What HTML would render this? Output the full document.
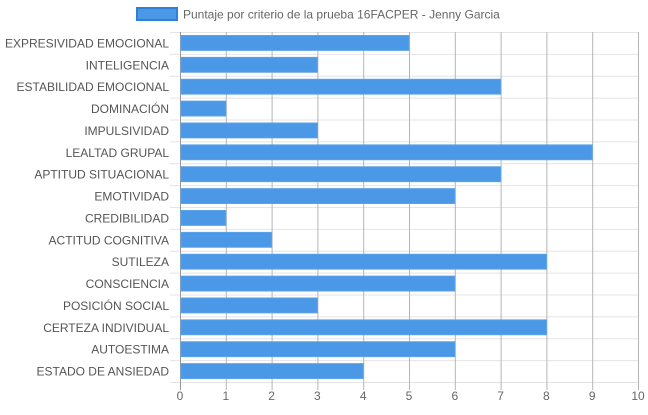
<!DOCTYPE html>
<html><head><meta charset="utf-8"><style>
body{margin:0;background:#fff;font-family:"Liberation Sans",sans-serif}
</style></head><body>
<svg id="chart" width="648" height="410" xmlns="http://www.w3.org/2000/svg" font-family="Liberation Sans, sans-serif">
<g>
<rect x="137" y="8" width="40" height="12" fill="#4a98e6" stroke="#2f7fd8" stroke-width="2"/>
<text x="183" y="18.5" font-size="12" fill="#666">Puntaje por criterio de la prueba 16FACPER - Jenny Garcia</text>
</g>
<g id="grid"></g><g id="bars"></g><g id="labels"></g>
</svg>
<script>
const categories=["EXPRESIVIDAD EMOCIONAL","INTELIGENCIA","ESTABILIDAD EMOCIONAL","DOMINACIÓN","IMPULSIVIDAD","LEALTAD GRUPAL","APTITUD SITUACIONAL","EMOTIVIDAD","CREDIBILIDAD","ACTITUD COGNITIVA","SUTILEZA","CONSCIENCIA","POSICIÓN SOCIAL","CERTEZA INDIVIDUAL","AUTOESTIMA","ESTADO DE ANSIEDAD"];
const values=[5,3,7,1,3,9,7,6,1,2,8,6,3,8,6,4];
const ticks=[0,1,2,3,4,5,6,7,8,9,10];
const NS="http://www.w3.org/2000/svg";
const x0=180,x1=638,plotTop=32,plotBottom=382;
const xs=v=>x0+(v-0)/10*(x1-x0);
const band=(plotBottom-plotTop)/categories.length;
const ys=i=>plotTop+i*band;
function mk(tag,attrs,parent){const e=document.createElementNS(NS,tag);for(const k in attrs)e.setAttribute(k,attrs[k]);document.getElementById(parent).appendChild(e);return e;}
for(let i=0;i<=categories.length;i++){
 const l=mk('line',{x1:170,x2:x1,y1:ys(i)+0.5,y2:ys(i)+0.5,stroke:'#e4e4e4','stroke-width':1},'grid');
 
 
}
ticks.forEach(t=>{
 const l=mk('line',{x1:xs(t)+0.5,x2:xs(t)+0.5,y1:plotTop,y2:plotBottom+8,stroke:t===0?'#999':'#b5b5b5','stroke-width':1},'grid');
 
 
 const tx=mk('text',{x:xs(t),y:400,'text-anchor':'middle','font-size':12,fill:'#666'},'labels');
 tx.textContent=t;
 
 
});
categories.forEach((c,i)=>{
 const r=mk('rect',{x:x0+1,y:ys(i)+3.5,width:xs(values[i])-x0-1,height:band-7,fill:'#4a98e6',stroke:'#5aa2ea','stroke-width':1},'bars');
 
 
 const tx=mk('text',{x:169,y:ys(i)+band/2+4.5,'text-anchor':'end','font-size':12,fill:'#555'},'labels');
 tx.textContent=c;
 
 
});
</script>
</body></html>
